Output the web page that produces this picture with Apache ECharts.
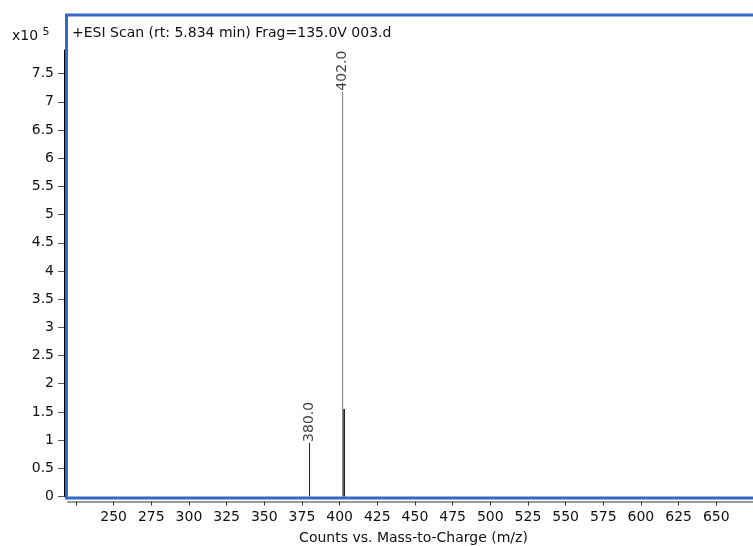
<!DOCTYPE html>
<html>
<head>
<meta charset="utf-8">
<script src="https://cdn.jsdelivr.net/npm/echarts@6/dist/echarts.min.js"></script>
<style>html,body{margin:0;padding:0;background:#fff;}#c{width:753px;height:546px;}</style>
</head>
<body>
<div id="c"></div>
<script>
// Data (intensity in units of 10^5 counts)
const mzValues = [380.0, 402.0, 403.0];
const intensities = [0.95, 7.18, 1.55];
const peakLabels = ['380.0', '402.0', ''];
const peakColors = ['#222222', '#777777', '#111111'];
const peakWidths = [1, 1, 1.6];
const yTickValues = [0, 0.5, 1, 1.5, 2, 2.5, 3, 3.5, 4, 4.5, 5, 5.5, 6, 6.5, 7, 7.5];
const xTickValues = [225, 250, 275, 300, 325, 350, 375, 400, 425, 450, 475, 500, 525, 550, 575, 600, 625, 650];
const xLabelValues = [250, 275, 300, 325, 350, 375, 400, 425, 450, 475, 500, 525, 550, 575, 600, 625, 650];
const titleText = '+ESI Scan (rt: 5.834 min) Frag=135.0V 003.d';
const xAxisTitle = 'Counts vs. Mass-to-Charge (m/z)';

const FONT = '"DejaVu Sans", Verdana, sans-serif';
const peaks = mzValues.map((m, i) => [m, intensities[i], i]);

const chart = echarts.init(document.getElementById('c'), null, {renderer: 'canvas'});
chart.setOption({
  animation: false,
  backgroundColor: '#fff',
  grid: {left: 68, right: 0, top: 50, bottom: 49.5, containLabel: false, outerBoundsMode: 'none'},
  xAxis: {
    type: 'value', min: 219.7, max: 674.4,
    offset: 5,
    axisLine: {show: true, onZero: false, lineStyle: {color: '#999', width: 2}},
    axisTick: {show: true, length: 4, lineStyle: {color: '#333'}, customValues: xTickValues},
    axisLabel: {show: true, fontSize: 14, color: '#111', fontFamily: FONT, margin: 9, customValues: xLabelValues},
    splitLine: {show: false},
    name: xAxisTitle, nameLocation: 'middle', nameGap: 30,
    nameTextStyle: {fontSize: 14, color: '#111', fontFamily: FONT, padding: [0, 0, 0, 6]}
  },
  yAxis: {
    type: 'value', min: 0, max: 7.919,
    offset: 4,
    axisLine: {show: true, onZero: false, lineStyle: {color: '#000', width: 1}},
    axisTick: {show: true, length: 6, lineStyle: {color: '#555'}, customValues: yTickValues},
    axisLabel: {show: true, fontSize: 14, color: '#111', fontFamily: FONT, margin: 10, customValues: yTickValues},
    splitLine: {show: false}
  },
  graphic: [
    {type: 'rect', shape: {x: 66.5, y: 15, width: 720, height: 483}, style: {fill: 'none', stroke: '#3568c9', lineWidth: 3}, z: 100},
    {type: 'text', left: 72, top: 26, style: {text: titleText, fontSize: 14, fill: '#111', fontFamily: FONT}, z: 101},
    {type: 'text', left: 12, top: 27, style: {text: '{a|x10 }{b|5}', fontFamily: FONT, fill: '#111',
      rich: {a: {fontSize: 14, fontFamily: FONT, fill: '#111'}, b: {fontSize: 11, fontFamily: FONT, fill: '#111', verticalAlign: 'top', padding: [0, 0, 8, 0]}}}, z: 101}
  ],
  series: [
    {
      type: 'custom',
      data: peaks,
      renderItem: function (params, api) {
        const x = api.value(0), y = api.value(1), idx = api.value(2);
        const p0 = api.coord([x, 0]);
        const p1 = api.coord([x, y]);
        return {
          type: 'line',
          shape: {x1: p0[0], y1: p0[1], x2: p1[0], y2: p1[1]},
          style: {stroke: peakColors[idx], lineWidth: peakWidths[idx]}
        };
      },
      z: 10
    },
    {
      type: 'scatter',
      data: peaks,
      symbolSize: 0,
      label: {
        show: true, position: 'top', distance: 1, rotate: 90,
        align: 'left', verticalAlign: 'middle',
        fontSize: 14, color: '#111', fontFamily: FONT,
        formatter: function (p) { return peakLabels[p.data[2]]; }
      },
      z: 11
    }
  ]
});
</script>
</body>
</html>
